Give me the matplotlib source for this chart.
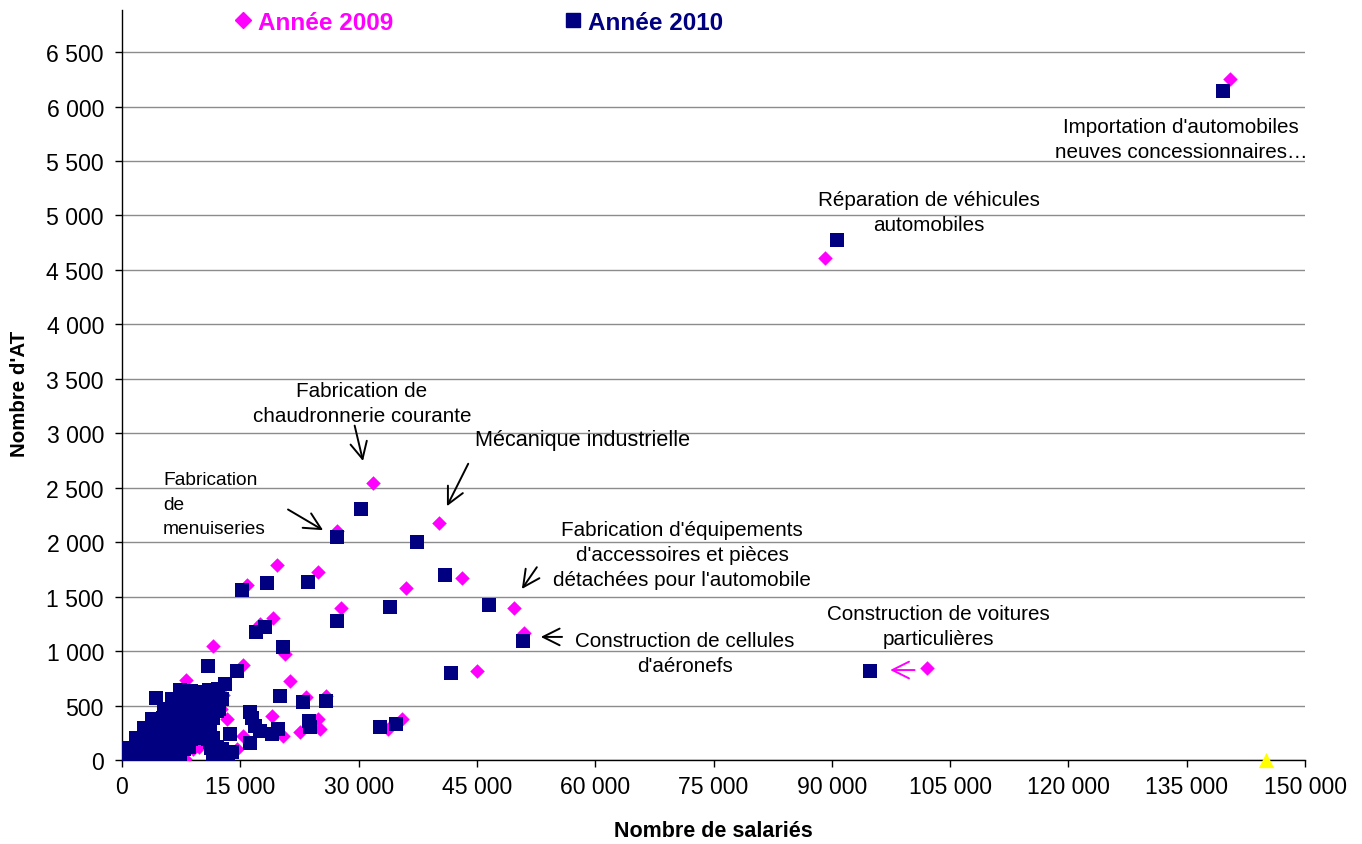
import matplotlib
matplotlib.use("Agg")
import matplotlib.pyplot as plt
from matplotlib.lines import Line2D
from matplotlib.ticker import FuncFormatter, MultipleLocator

plt.rcParams["font.family"] = ["Liberation Sans", "DejaVu Sans"]

# Année 2009 (losanges magenta)
x_2009 = [140500, 89100, 31800, 40200, 27300, 43100, 49700, 50950, 45000, 102100,
          36000, 24850, 19650, 27750, 15850, 11550, 20650, 19150, 17500, 15350,
          21300, 23350, 25850, 24850, 22550, 25100, 20400, 19000, 14600, 15350,
          35500, 33700, 8100, 9000, 8000, 11200, 11400, 6500, 2000, 4000,
          10200, 12500, 13300, 9800, 5600, 7200, 3000, 1200, 12800, 10600]
y_2009 = [6250, 4610, 2545, 2175, 2100, 1670, 1400, 1165, 815, 845,
          1580, 1730, 1790, 1395, 1605, 1045, 975, 1300, 1250, 870,
          725, 580, 590, 375, 255, 285, 220, 405, 100, 220,
          375, 285, 735, 100, 10, 260, 380, 450, 150, 300,
          560, 470, 380, 120, 250, 30, 60, 20, 600, 330]

# Année 2010 (carrés bleu marine)
x_2010 = [139600, 90700, 30300, 27250, 37350, 40950, 46550, 33950, 50800, 41750,
          94850, 23550, 18400, 15200, 27250, 18100, 17000, 20450, 14600, 10900,
          25900, 22950, 23700, 23850, 20050, 32700, 34750, 16250, 16500, 16900,
          17500, 19050, 19800, 16250, 13700, 12050, 12700, 13950, 11150, 4300,
          # amas près de l'origine
          300, 1000, 1700, 2400, 3100, 3800, 4500, 5200, 5900, 6600, 7300, 11500, 12300, 13500,
          800, 1500, 2200, 2900, 3600, 4300, 5000, 5700, 6400, 7100, 7800, 8500, 11300, 12000, 12700,
          1800, 2500, 3200, 3900, 4600, 5300, 6000, 6700, 7400, 8100, 8800, 9500, 10200, 10900, 11600,
          2800, 3500, 4200, 4900, 5600, 6300, 7000, 7700, 8400, 9100, 9800, 10500, 11200,
          3800, 4500, 5200, 5900, 6600, 7300, 8000, 8700, 9400, 10100, 10800, 11500,
          5300, 6000, 6700, 7400, 8100, 8800, 9500, 10200, 10900, 11600, 12300,
          6300, 7000, 7700, 8400, 9100, 9800, 10500, 11200, 12000, 12700,
          7400, 8800, 9900, 11000, 12200, 13100]
y_2010 = [6140, 4770, 2305, 2045, 2000, 1700, 1425, 1405, 1095, 800,
          815, 1635, 1625, 1565, 1275, 1220, 1175, 1035, 820, 860,
          540, 535, 360, 305, 590, 305, 330, 440, 390, 310,
          265, 240, 285, 160, 240, 450, 75, 75, 165, 565,
          20, 15, 25, 20, 15, 25, 20, 15, 25, 20, 15, 30, 20, 40,
          110, 105, 115, 110, 105, 115, 110, 105, 115, 110, 105, 115, 110, 120, 100,
          200, 195, 205, 200, 195, 205, 200, 195, 205, 200, 195, 205, 200, 195, 205,
          290, 285, 295, 290, 285, 295, 290, 285, 295, 290, 285, 295, 290,
          380, 375, 385, 380, 375, 385, 380, 375, 385, 380, 375, 385,
          470, 465, 475, 470, 465, 475, 470, 465, 475, 470, 465,
          560, 555, 565, 560, 555, 565, 560, 555, 565, 560,
          640, 630, 620, 640, 650, 700]

# troisième série (triangle jaune)
x_autre = [145000]
y_autre = [0]

annotations = [
    ("Importation d'automobiles\nneuves concessionnaires…", 134300, 5700, 14.9),
    ("Réparation de véhicules\nautomobiles", 102300, 5030, 14.9),
    ("Fabrication de\nchaudronnerie courante", 30400, 3280, 14.9),
    ("Mécanique industrielle", 58400, 2940, 15.6),
    ("Fabrication d'équipements\nd'accessoires et pièces\ndétachées pour l'automobile", 71000, 1890, 14.9),
    ("Construction de cellules\nd'aéronefs", 71400, 980, 14.9),
    ("Construction de voitures\nparticulières", 103500, 1230, 14.9),
]

# (queue, pointe, couleur)
fleches = [
    ((29500, 3070), (30560, 2745), "black"),
    ((43900, 2720), (41200, 2330), "black"),
    ((21050, 2300), (25500, 2110), "black"),
    ((52600, 1770), (50700, 1570), "black"),
    ((55800, 1130), (53100, 1130), "black"),
    ((100500, 826), (97400, 826), "#FF00FF"),
]

fig = plt.figure(figsize=(13.62, 8.45), dpi=100)
ax = fig.add_axes([122 / 1362, 84 / 845, 1183 / 1362, 750 / 845])

ax.scatter(x_2009, y_2009, marker="D", s=7.4 ** 2, color="#FF00FF", linewidths=0, zorder=3)
ax.scatter(x_2010, y_2010, marker="s", s=10.4 ** 2, color="#000080", linewidths=0, zorder=4)
ax.scatter(x_autre, y_autre, marker="^", s=11 ** 2, color="#FFFF00", linewidths=0, zorder=5, clip_on=False)

ax.set_xlim(0, 150000)
ax.set_ylim(0, 6886)
ax.xaxis.set_major_locator(MultipleLocator(15000))
ax.yaxis.set_major_locator(MultipleLocator(500))
fmt = FuncFormatter(lambda v, p: f"{v:,.0f}".replace(",", " "))
ax.xaxis.set_major_formatter(fmt)
ax.yaxis.set_major_formatter(fmt)
ax.tick_params(axis="both", labelsize=16.6, length=5, width=1, color="#000000")
ax.tick_params(axis="y", pad=8)
ax.tick_params(axis="x", pad=6)

ax.grid(axis="y", color="#8c8c8c", linewidth=1)
ax.set_axisbelow(True)
for side in ("top", "right"):
    ax.spines[side].set_visible(False)
for side in ("left", "bottom"):
    ax.spines[side].set_color("#000000")
    ax.spines[side].set_linewidth(1)

ax.set_xlabel("Nombre de salariés", fontsize=15.5, fontweight="bold", va="center")
ax.set_ylabel("Nombre d'AT", fontsize=14.8, fontweight="bold")
ax.xaxis.set_label_coords((713 - 122) / 1183, -(832 - 761) / 750)
ax.yaxis.set_label_coords(-(122 - 29) / 1183, (761 - 394) / 750)

for txt, x, y, fs in annotations:
    ax.text(x, y, txt, ha="center", va="center", fontsize=fs, linespacing=1.4)
ax.text(5200, 2350, "Fabrication\nde\nmenuiseries", ha="left", va="center",
        fontsize=13.8, linespacing=1.55)

for (x0, y0), (x1, y1), c in fleches:
    ax.annotate("", xy=(x1, y1), xytext=(x0, y0),
                arrowprops=dict(arrowstyle="->", color=c, lw=1.4, mutation_scale=30,
                                shrinkA=0, shrinkB=0))

handles = [
    Line2D([], [], marker="D", color="#FF00FF", linestyle="none", markersize=8.5),
    Line2D([], [], marker="s", color="#000080", linestyle="none", markersize=10),
]
leg = fig.legend(handles, ["Année 2009", "Année 2010"], ncol=2, loc="upper left",
                 bbox_to_anchor=(236 / 1362, 1 - 12 / 845), frameon=False,
                 prop={"size": 17.5, "weight": "bold"}, handlelength=0.6,
                 handletextpad=0.3, columnspacing=7.1, borderpad=0, borderaxespad=0)
for t, c in zip(leg.get_texts(), ["#FF00FF", "#000080"]):
    t.set_color(c)

fig.savefig("out.png", dpi=100)
